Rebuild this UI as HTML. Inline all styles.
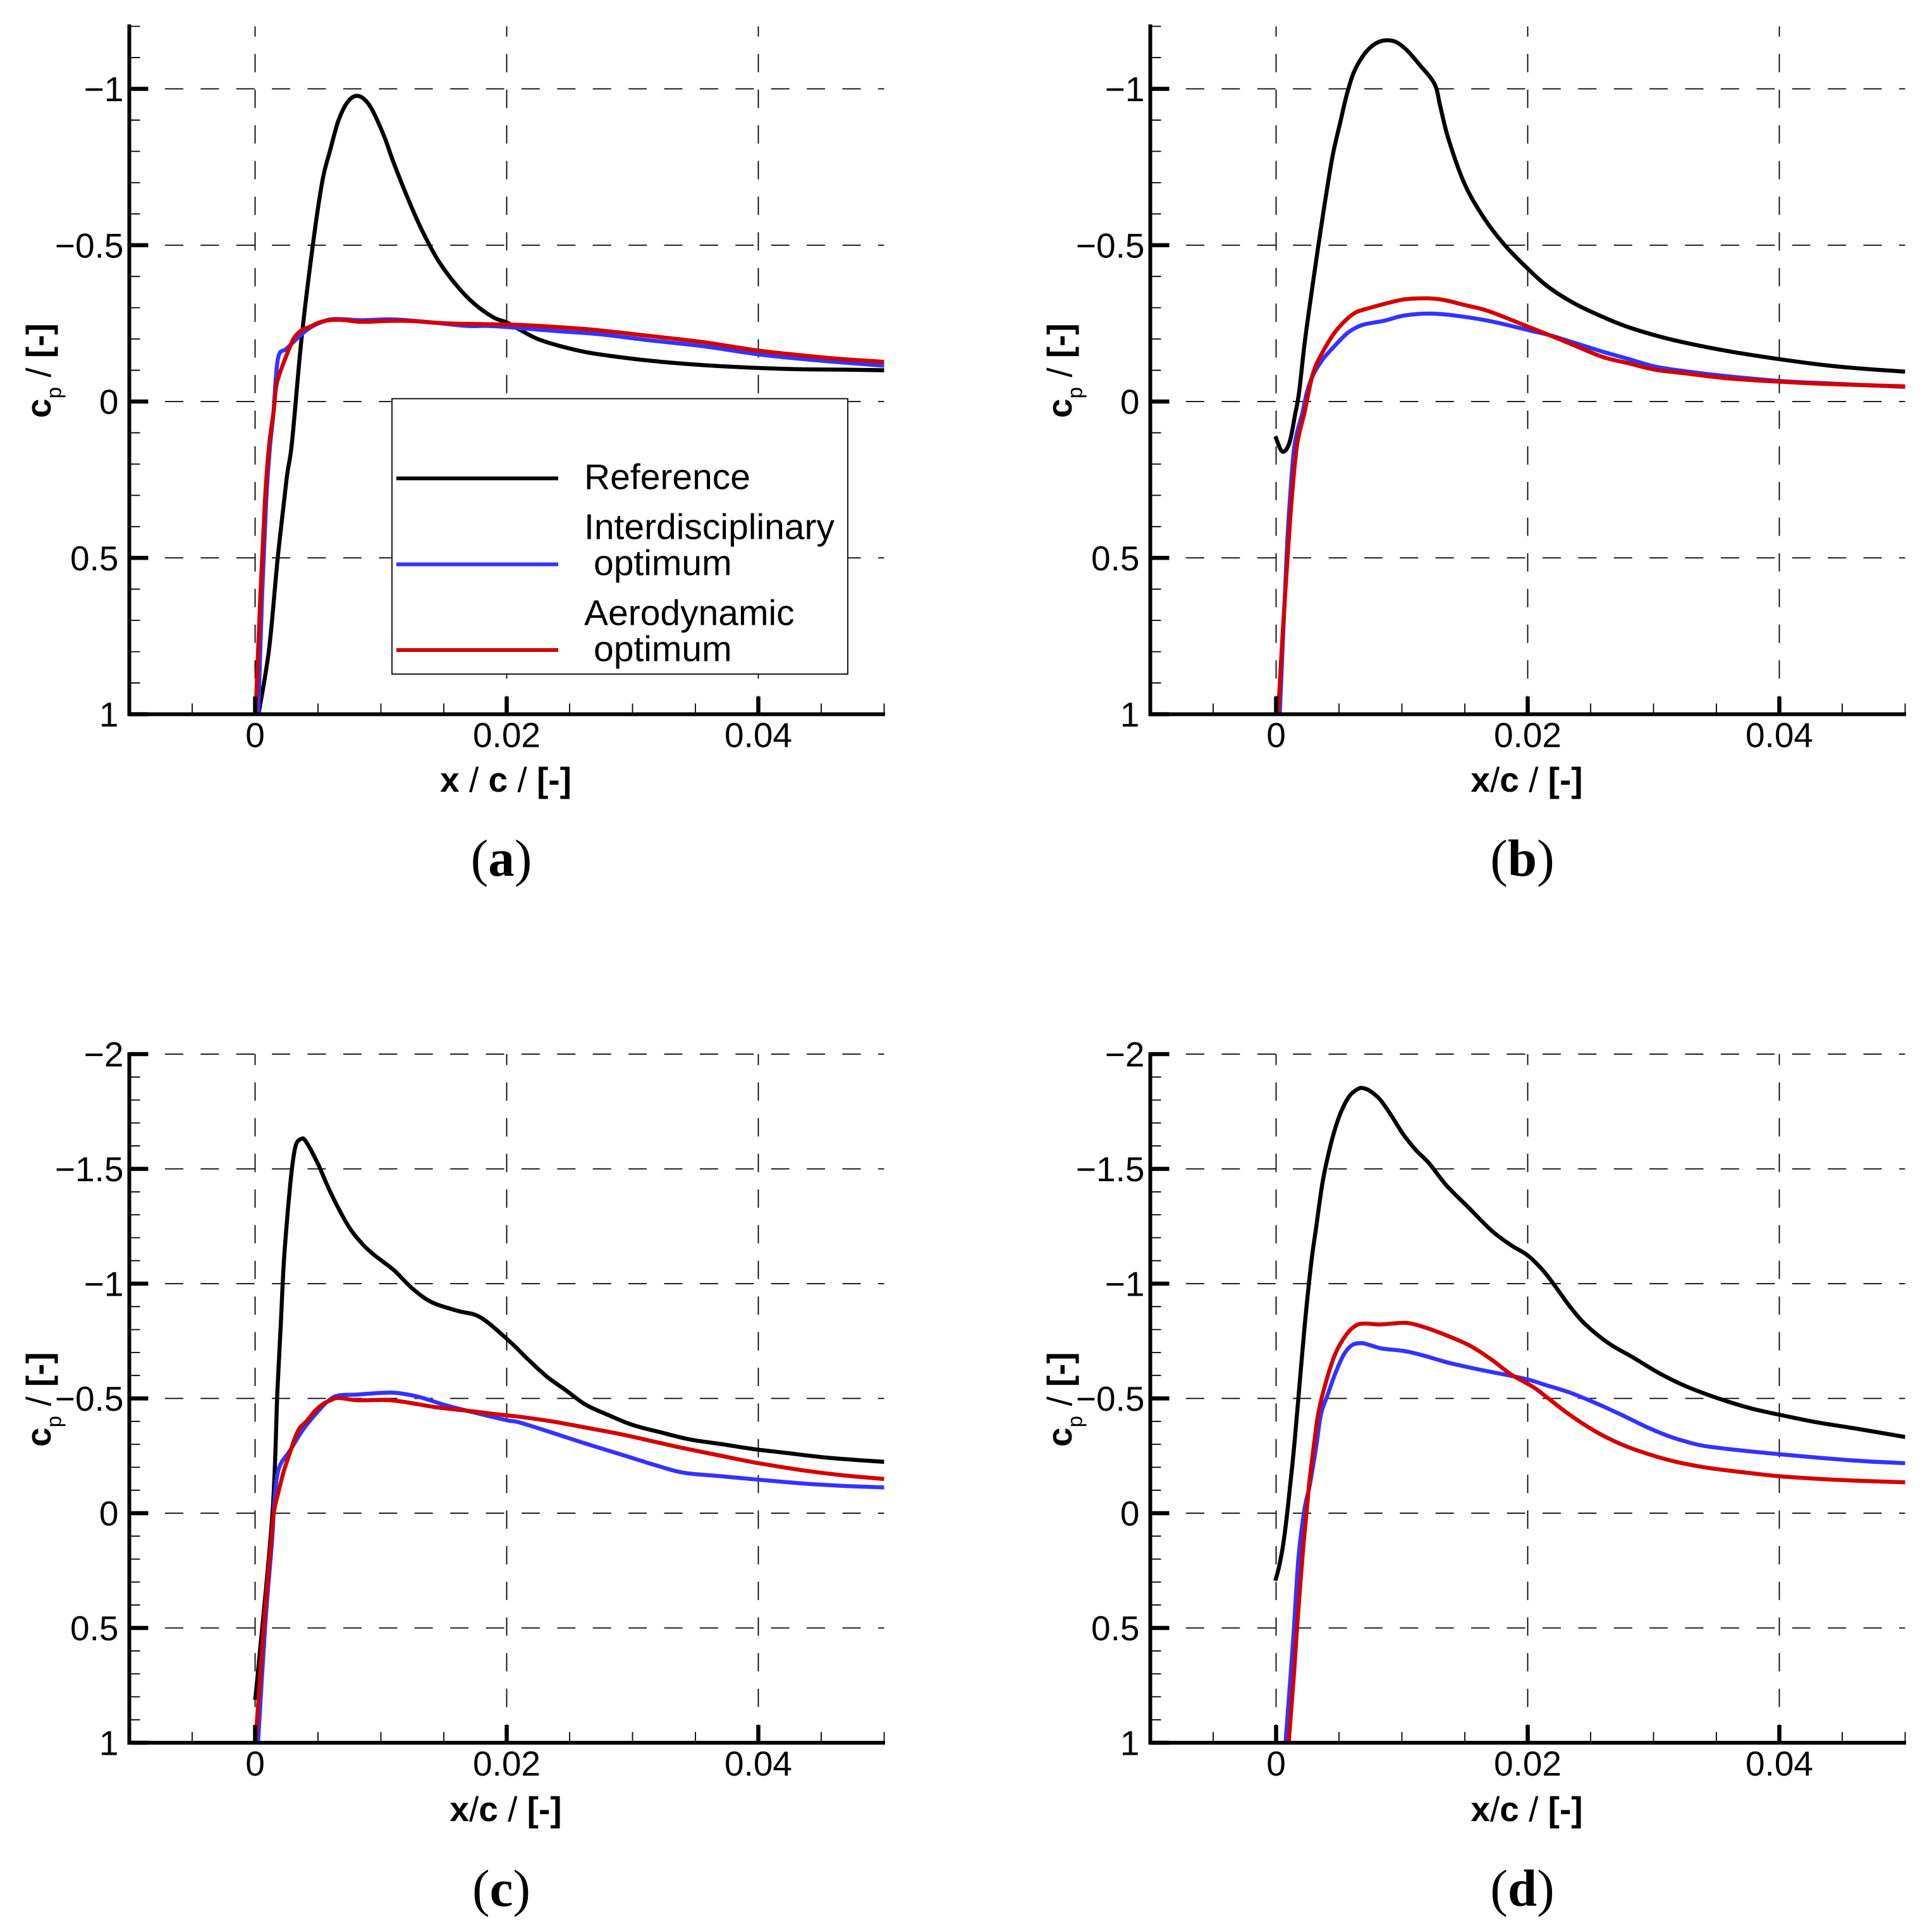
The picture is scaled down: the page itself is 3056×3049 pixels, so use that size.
<!DOCTYPE html>
<html lang="en">
<head>
<meta charset="utf-8">
<title>Pressure coefficient comparison</title>
<style>
html,body{margin:0;padding:0;background:#fff;}
svg{display:block;}
text{font-family:"Liberation Sans",Arial,sans-serif;fill:#000;}
.tick{font-size:55px;}
.axis-label{font-size:55px;font-weight:bold;}
.thin{font-weight:normal;}
.legend-text{font-size:57px;}
.caption{font-family:"Liberation Serif",serif;font-size:83px;}
.caption .letter{font-weight:bold;}
</style>
</head>
<body>
<svg id="figure" xmlns="http://www.w3.org/2000/svg" width="3056" height="3049" viewBox="0 0 3056 3049">
  <rect x="0" y="0" width="3056" height="3049" fill="#fff"/>
  <g id="panel-a"></g>
  <g id="panel-b"></g>
  <g id="panel-c"></g>
  <g id="panel-d"></g>

  <text class="axis-label" x="800" y="1252" text-anchor="middle">x <tspan class="thin">/</tspan> c <tspan class="thin">/</tspan> [-]</text>
  <text class="axis-label" x="2415" y="1252" text-anchor="middle">x<tspan class="thin">/</tspan>c <tspan class="thin">/</tspan> [-]</text>
  <text class="axis-label" x="800" y="2880" text-anchor="middle">x<tspan class="thin">/</tspan>c <tspan class="thin">/</tspan> [-]</text>
  <text class="axis-label" x="2415" y="2880" text-anchor="middle">x<tspan class="thin">/</tspan>c <tspan class="thin">/</tspan> [-]</text>

  <text class="axis-label" transform="translate(80 661) rotate(-90)">c<tspan class="thin" dy="16.5" font-size="33">p</tspan><tspan dy="-16.5"> <tspan class="thin">/</tspan> [-]</tspan></text>
  <text class="axis-label" transform="translate(1695 661) rotate(-90)">c<tspan class="thin" dy="16.5" font-size="33">p</tspan><tspan dy="-16.5"> <tspan class="thin">/</tspan> [-]</tspan></text>
  <text class="axis-label" transform="translate(80 2288) rotate(-90)">c<tspan class="thin" dy="16.5" font-size="33">p</tspan><tspan dy="-16.5"> <tspan class="thin">/</tspan> [-]</tspan></text>
  <text class="axis-label" transform="translate(1695 2288) rotate(-90)">c<tspan class="thin" dy="16.5" font-size="33">p</tspan><tspan dy="-16.5"> <tspan class="thin">/</tspan> [-]</tspan></text>

  <g id="legend">
    <rect x="620" y="630.5" width="721" height="435.5" fill="#fff" stroke="#000" stroke-width="1.8"/>
    <line x1="627" x2="883" y1="756.5" y2="756.5" stroke="#000" stroke-width="6"/>
    <text class="legend-text" x="924" y="773.5">Reference</text>
    <line x1="627" x2="883" y1="892.5" y2="892.5" stroke="#3333ff" stroke-width="6"/>
    <text class="legend-text" x="924" y="852.5">Interdisciplinary</text>
    <text class="legend-text" x="939" y="909.5">optimum</text>
    <line x1="627" x2="883" y1="1028" y2="1028" stroke="#d40000" stroke-width="6"/>
    <text class="legend-text" x="924" y="988.5">Aerodynamic</text>
    <text class="legend-text" x="939" y="1045.5">optimum</text>
  </g>

  <text class="caption" x="793" y="1385" text-anchor="middle">(<tspan class="letter">a</tspan>)</text>
  <text class="caption" x="2408" y="1385" text-anchor="middle">(<tspan class="letter">b</tspan>)</text>
  <text class="caption" x="793" y="3014" text-anchor="middle">(<tspan class="letter">c</tspan>)</text>
  <text class="caption" x="2408" y="3014" text-anchor="middle">(<tspan class="letter">d</tspan>)</text>
</svg>

<script>
/* ---------- axis values ---------- */
var xMajorTicks = [0, 0.02, 0.04];
var xMajorLabels = ["0", "0.02", "0.04"];
var xMinorTicks = [-0.005, 0.005, 0.01, 0.015, 0.025, 0.03, 0.035, 0.045, 0.05];
var yMajorTicksTop = [-1, -0.5, 0, 0.5, 1];
var yMajorLabelsTop = ["\u22121", "\u22120.5", "0", "0.5", "1"];
var yMinorTicksTop = [-1.2, -1.1, -0.9, -0.8, -0.7, -0.6, -0.4, -0.3, -0.2, -0.1, 0.1, 0.2, 0.3, 0.4, 0.6, 0.7, 0.8, 0.9];
var yMajorTicksBottom = [-2, -1.5, -1, -0.5, 0, 0.5, 1];
var yMajorLabelsBottom = ["\u22122", "\u22121.5", "\u22121", "\u22120.5", "0", "0.5", "1"];
var yMinorTicksBottom = [-1.9, -1.8, -1.7, -1.6, -1.4, -1.3, -1.2, -1.1, -0.9, -0.8, -0.7, -0.6, -0.4, -0.3, -0.2, -0.1, 0.1, 0.2, 0.3, 0.4, 0.6, 0.7, 0.8, 0.9];

/* ---------- panel a series ---------- */
var aRefX = [0.00027,0.0011,0.0018,0.0025,0.00293,0.00369,0.00459,0.00535,0.00595,0.00664,0.00741,0.00823,0.00916,0.01023,0.011,0.01216,0.01331,0.01459,0.016,0.01741,0.01895,0.02,0.02103,0.02246,0.0241,0.02617,0.02822,0.0313,0.03439,0.03747,0.04055,0.04364,0.04672,0.05];
var aRefCp = [1,0.795,0.5,0.248,0.131,-0.2,-0.5,-0.706,-0.801,-0.9,-0.961,-0.977,-0.943,-0.851,-0.765,-0.648,-0.544,-0.449,-0.372,-0.313,-0.269,-0.253,-0.23,-0.2,-0.179,-0.159,-0.146,-0.131,-0.12,-0.112,-0.1065,-0.103,-0.102,-0.1];
var aInterX = [0.00025,0.00055,0.00088,0.00118,0.00145,0.00182,0.00254,0.00408,0.00535,0.00639,0.00842,0.01048,0.01177,0.01434,0.0169,0.019,0.0241,0.0272,0.0313,0.03542,0.04,0.04364,0.04672,0.05];
var aInterCp = [1,0.63,0.32,0.145,0.04,-0.1375,-0.17,-0.228,-0.255,-0.264,-0.26,-0.2627,-0.261,-0.252,-0.2415,-0.241,-0.225,-0.216,-0.196,-0.178,-0.151,-0.1355,-0.125,-0.1146];
var aAeroX = [0.00004,0.00041,0.00078,0.0011,0.00148,0.00177,0.0028,0.00318,0.0037,0.00434,0.0051,0.00587,0.0069,0.00844,0.01048,0.01229,0.01434,0.01613,0.019,0.02103,0.0241,0.0272,0.0313,0.03542,0.04,0.04364,0.04672,0.05];
var aAeroCp = [1,0.63,0.32,0.145,0.03,-0.065,-0.178,-0.208,-0.228,-0.239,-0.253,-0.26,-0.261,-0.255,-0.2577,-0.2577,-0.252,-0.2487,-0.247,-0.245,-0.238,-0.2285,-0.21,-0.191,-0.163,-0.147,-0.1355,-0.127];

/* ---------- panel b series ---------- */
var bRefX = [-0.00006,0.00049,0.00105,0.0015,0.00183,0.00228,0.00292,0.00344,0.00395,0.00451,0.0051,0.00561,0.00618,0.00697,0.00772,0.00849,0.00946,0.01036,0.01138,0.01259,0.01305,0.01369,0.01497,0.01651,0.01818,0.02,0.02169,0.02374,0.026,0.02806,0.03094,0.03361,0.03669,0.04,0.04389,0.04697,0.05];
var bRefCp = [0.111,0.16,0.133,0.044,-0.03,-0.191,-0.377,-0.521,-0.655,-0.789,-0.893,-0.98,-1.053,-1.109,-1.14,-1.154,-1.151,-1.125,-1.078,-1.016,-0.944,-0.841,-0.697,-0.588,-0.5,-0.425,-0.365,-0.313,-0.27,-0.237,-0.203,-0.179,-0.156,-0.1355,-0.115,-0.104,-0.0957];
var bInterX = [0.00029,0.00083,0.00111,0.00147,0.00209,0.00245,0.00292,0.00369,0.00459,0.00561,0.00638,0.00715,0.00856,0.01023,0.01241,0.01459,0.01715,0.02018,0.02169,0.02374,0.026,0.02806,0.03011,0.03258,0.03566,0.04,0.04389,0.05];
var bInterCp = [1,0.5,0.307,0.138,0.037,-0.03,-0.083,-0.134,-0.175,-0.217,-0.237,-0.248,-0.258,-0.2755,-0.281,-0.273,-0.256,-0.227,-0.213,-0.1874,-0.159,-0.1355,-0.112,-0.0964,-0.0816,-0.066,-0.058,-0.047];
var bAeroX = [0.00016,0.00054,0.00091,0.00125,0.00167,0.00225,0.00259,0.00292,0.00344,0.00459,0.00561,0.00638,0.00715,0.00869,0.01023,0.01202,0.01331,0.0151,0.0169,0.02018,0.02169,0.02374,0.026,0.02806,0.03011,0.03258,0.03566,0.04,0.04389,0.05];
var bAeroCp = [1,0.731,0.5,0.307,0.138,0.037,-0.03,-0.088,-0.139,-0.217,-0.263,-0.286,-0.296,-0.313,-0.327,-0.33,-0.325,-0.3075,-0.289,-0.237,-0.213,-0.179,-0.142,-0.122,-0.102,-0.09,-0.075,-0.0634,-0.056,-0.0485];

/* ---------- panel c series ---------- */
var cRefX = [0,0.00023,0.00138,0.00177,0.00203,0.00228,0.00262,0.00292,0.00323,0.00364,0.00403,0.00497,0.00587,0.0069,0.00767,0.00856,0.00933,0.01023,0.01113,0.01254,0.01408,0.01613,0.01792,0.0202,0.02164,0.02319,0.02472,0.02627,0.02802,0.02997,0.03233,0.03459,0.03706,0.03953,0.04199,0.04508,0.04775,0.05];
var cRefCp = [0.813,0.69,0,-0.527,-0.808,-1.089,-1.328,-1.497,-1.602,-1.63,-1.62,-1.525,-1.412,-1.3,-1.23,-1.171,-1.131,-1.093,-1.054,-0.977,-0.918,-0.881,-0.853,-0.75,-0.673,-0.595,-0.535,-0.473,-0.429,-0.385,-0.351,-0.321,-0.301,-0.28,-0.264,-0.244,-0.232,-0.2236];
var cInterX = [0.00023,0.00082,0.00133,0.00155,0.0019,0.00279,0.00382,0.0051,0.00587,0.00664,0.00818,0.00997,0.01126,0.01305,0.0151,0.01741,0.02,0.02103,0.0237,0.02617,0.02925,0.03213,0.03408,0.03706,0.04,0.04364,0.04672,0.05];
var cInterCp = [1,0.477,0.131,-0.063,-0.197,-0.274,-0.365,-0.45,-0.492,-0.513,-0.517,-0.524,-0.524,-0.506,-0.471,-0.4385,-0.405,-0.395,-0.349,-0.305,-0.253,-0.204,-0.176,-0.161,-0.146,-0.129,-0.119,-0.1125];
var cAeroX = [0.00003,0.00071,0.00126,0.00148,0.00182,0.00228,0.00279,0.00318,0.00356,0.00408,0.00472,0.00536,0.006,0.00664,0.00818,0.01049,0.01228,0.01433,0.01741,0.019,0.02103,0.0237,0.02617,0.02925,0.03336,0.03706,0.04,0.04364,0.04672,0.05];
var cAeroCp = [1,0.477,0.131,0,-0.084,-0.183,-0.267,-0.33,-0.372,-0.4,-0.443,-0.474,-0.492,-0.502,-0.492,-0.493,-0.481,-0.462,-0.443,-0.432,-0.42,-0.399,-0.374,-0.342,-0.2915,-0.25,-0.218,-0.186,-0.165,-0.149];

/* ---------- panel d series ---------- */
var dRefX = [-0.00006,0.00024,0.00058,0.00095,0.00138,0.00177,0.00228,0.00279,0.00318,0.00369,0.0042,0.00472,0.00523,0.00587,0.00651,0.0069,0.00754,0.00831,0.0092,0.0101,0.01113,0.01215,0.01356,0.01536,0.01715,0.01869,0.02,0.02127,0.0223,0.02333,0.02456,0.02641,0.02826,0.03052,0.03258,0.03525,0.03772,0.04,0.04286,0.04594,0.05];
var dRefCp = [0.294,0.232,0.131,-0.034,-0.26,-0.499,-0.822,-1.089,-1.244,-1.44,-1.574,-1.68,-1.757,-1.82,-1.848,-1.852,-1.837,-1.799,-1.729,-1.651,-1.581,-1.525,-1.427,-1.328,-1.23,-1.167,-1.123,-1.054,-0.98,-0.902,-0.824,-0.741,-0.682,-0.608,-0.553,-0.498,-0.457,-0.429,-0.397,-0.37,-0.332];
var dInterX = [0.00075,0.00116,0.00142,0.00178,0.00225,0.00267,0.00318,0.00356,0.00408,0.00472,0.00536,0.006,0.00677,0.00754,0.00844,0.01023,0.01177,0.01382,0.01638,0.01843,0.02018,0.02127,0.02333,0.02539,0.02744,0.0295,0.03114,0.03258,0.03402,0.03669,0.04,0.04389,0.04697,0.05];
var dInterCp = [1,0.7,0.498,0.195,-0.016,-0.12,-0.288,-0.429,-0.513,-0.611,-0.689,-0.731,-0.741,-0.731,-0.717,-0.706,-0.686,-0.654,-0.623,-0.601,-0.58,-0.561,-0.526,-0.48,-0.429,-0.374,-0.337,-0.312,-0.293,-0.275,-0.257,-0.238,-0.226,-0.218];
var dAeroX = [0.001,0.00142,0.00167,0.00209,0.00247,0.00267,0.00305,0.00336,0.00395,0.00472,0.00561,0.00638,0.00715,0.00818,0.0092,0.01036,0.01151,0.01331,0.01536,0.01715,0.01869,0.02045,0.02169,0.02333,0.02539,0.02744,0.0295,0.03155,0.03402,0.03669,0.04,0.04389,0.04697,0.05];
var dAeroCp = [1,0.7,0.498,0.195,-0.034,-0.148,-0.316,-0.436,-0.569,-0.696,-0.78,-0.819,-0.826,-0.822,-0.826,-0.829,-0.815,-0.78,-0.731,-0.668,-0.604,-0.549,-0.498,-0.429,-0.356,-0.3,-0.259,-0.227,-0.2,-0.181,-0.161,-0.147,-0.14,-0.1345];

var SVGNS = "http://www.w3.org/2000/svg";
var X_UNIT = 19900;
var GRID_ON = 29, GRID_OFF = 27.4;

function node(parent, tag, attrs) {
  var el = document.createElementNS(SVGNS, tag);
  for (var k in attrs) { el.setAttribute(k, attrs[k]); }
  parent.appendChild(el);
  return el;
}

/* Smooth path through the mapped data points (Catmull-Rom to cubic Bezier). */
function smoothPath(pts) {
  var d = "M" + pts[0][0].toFixed(1) + " " + pts[0][1].toFixed(1);
  for (var i = 0; i < pts.length - 1; i++) {
    var p0 = pts[Math.max(i - 1, 0)], p1 = pts[i], p2 = pts[i + 1], p3 = pts[Math.min(i + 2, pts.length - 1)];
    var c1x = p1[0] + (p2[0] - p0[0]) / 6, c1y = p1[1] + (p2[1] - p0[1]) / 6;
    var c2x = p2[0] - (p3[0] - p1[0]) / 6, c2y = p2[1] - (p3[1] - p1[1]) / 6;
    d += "C" + c1x.toFixed(1) + " " + c1y.toFixed(1) + " " + c2x.toFixed(1) + " " + c2y.toFixed(1) + " " + p2[0].toFixed(1) + " " + p2[1].toFixed(1);
  }
  return d;
}

function drawPanel(id, originX, zeroY, yUnit, yTopValue, majors, majorLabels, minors, series) {
  var root = document.getElementById("panel-" + id);
  var sx = function (v) { return originX + v * X_UNIT; };
  var sy = function (v) { return zeroY + v * yUnit; };
  var left = sx(-0.01), right = sx(0.05), bottom = sy(1), top = sy(yTopValue);

  /* grid */
  var grid = node(root, "g", {});
  
  
  majors.forEach(function (v) {
    var gl = node(grid, "line", { x1: left, x2: right, y1: sy(v), y2: sy(v), stroke: "#000", "stroke-width": 1.8, "stroke-dasharray": GRID_ON + " " + GRID_OFF });
    
    
  });
  xMajorTicks.forEach(function (v) {
    var gv = node(grid, "line", { x1: sx(v), x2: sx(v), y1: bottom, y2: top, stroke: "#000", "stroke-width": 1.8, "stroke-dasharray": GRID_ON + " " + GRID_OFF });
    
    
  });

  /* clip */
  var defs = node(root, "defs", {});
  var clip = node(defs, "clipPath", { id: "clip-" + id });
  node(clip, "rect", { x: left, y: top, width: right - left, height: bottom - top });

  /* series */
  var lines = node(root, "g", { "clip-path": "url(#clip-" + id + ")" });
  
  
  series.forEach(function (s) {
    var pts = s.xs.map(function (x, i) { return [sx(x), sy(s.cps[i])]; });
    var pl = node(lines, "path", { d: smoothPath(pts), fill: "none", stroke: s.color, "stroke-width": 6.4, "stroke-linejoin": "round" });
    
    
  });

  /* axes */
  var axes = node(root, "g", {});
  
  
  var ya = node(axes, "line", { x1: left, x2: left, y1: top - 3, y2: bottom + 3, stroke: "#000", "stroke-width": 6 });
  
  
  var xa = node(axes, "line", { x1: left - 3, x2: right + 1.5, y1: bottom, y2: bottom, stroke: "#000", "stroke-width": 6 });
  
  

  xMajorTicks.forEach(function (v, i) {
    var t = node(axes, "line", { x1: sx(v), x2: sx(v), y1: bottom, y2: bottom - 28, stroke: "#000", "stroke-width": 6.5 });
    
    
    var lb = node(axes, "text", { "class": "tick", x: sx(v), y: bottom + 52, "text-anchor": "middle" });
    lb.textContent = xMajorLabels[i];
    
    
  });
  xMinorTicks.forEach(function (v) {
    var t = node(axes, "line", { x1: sx(v), x2: sx(v), y1: bottom, y2: bottom - 17, stroke: "#000", "stroke-width": 1.8 });
    
    
  });
  majors.forEach(function (v, i) {
    var t = node(axes, "line", { x1: left, x2: left + 30, y1: sy(v), y2: sy(v), stroke: "#000", "stroke-width": 6.5 });
    
    
    var lb = node(axes, "text", { "class": "tick", x: left + (v < 0 ? -9 : -17), y: sy(v) + 19.5, "text-anchor": "end" });
    lb.textContent = majorLabels[i];
    
    
  });
  minors.forEach(function (v) {
    var t = node(axes, "line", { x1: left, x2: left + 17, y1: sy(v), y2: sy(v), stroke: "#000", "stroke-width": 1.8 });
    
    
  });
}

function seriesSet(refX, refCp, interX, interCp, aeroX, aeroCp) {
  return [
    { name: "reference", color: "#000", xs: refX, cps: refCp },
    { name: "interdisciplinary-optimum", color: "#3333ff", xs: interX, cps: interCp },
    { name: "aerodynamic-optimum", color: "#d40000", xs: aeroX, cps: aeroCp }
  ];
}

drawPanel("a", 403.5, 635, 494.5, -1.2, yMajorTicksTop, yMajorLabelsTop, yMinorTicksTop, seriesSet(aRefX, aRefCp, aInterX, aInterCp, aAeroX, aAeroCp));
drawPanel("b", 2018.5, 635, 494.5, -1.2, yMajorTicksTop, yMajorLabelsTop, yMinorTicksTop, seriesSet(bRefX, bRefCp, bInterX, bInterCp, bAeroX, bAeroCp));
drawPanel("c", 403.5, 2393, 363, -2, yMajorTicksBottom, yMajorLabelsBottom, yMinorTicksBottom, seriesSet(cRefX, cRefCp, cInterX, cInterCp, cAeroX, cAeroCp));
drawPanel("d", 2018.5, 2393, 363, -2, yMajorTicksBottom, yMajorLabelsBottom, yMinorTicksBottom, seriesSet(dRefX, dRefCp, dInterX, dInterCp, dAeroX, dAeroCp));
</script>
</body>
</html>
